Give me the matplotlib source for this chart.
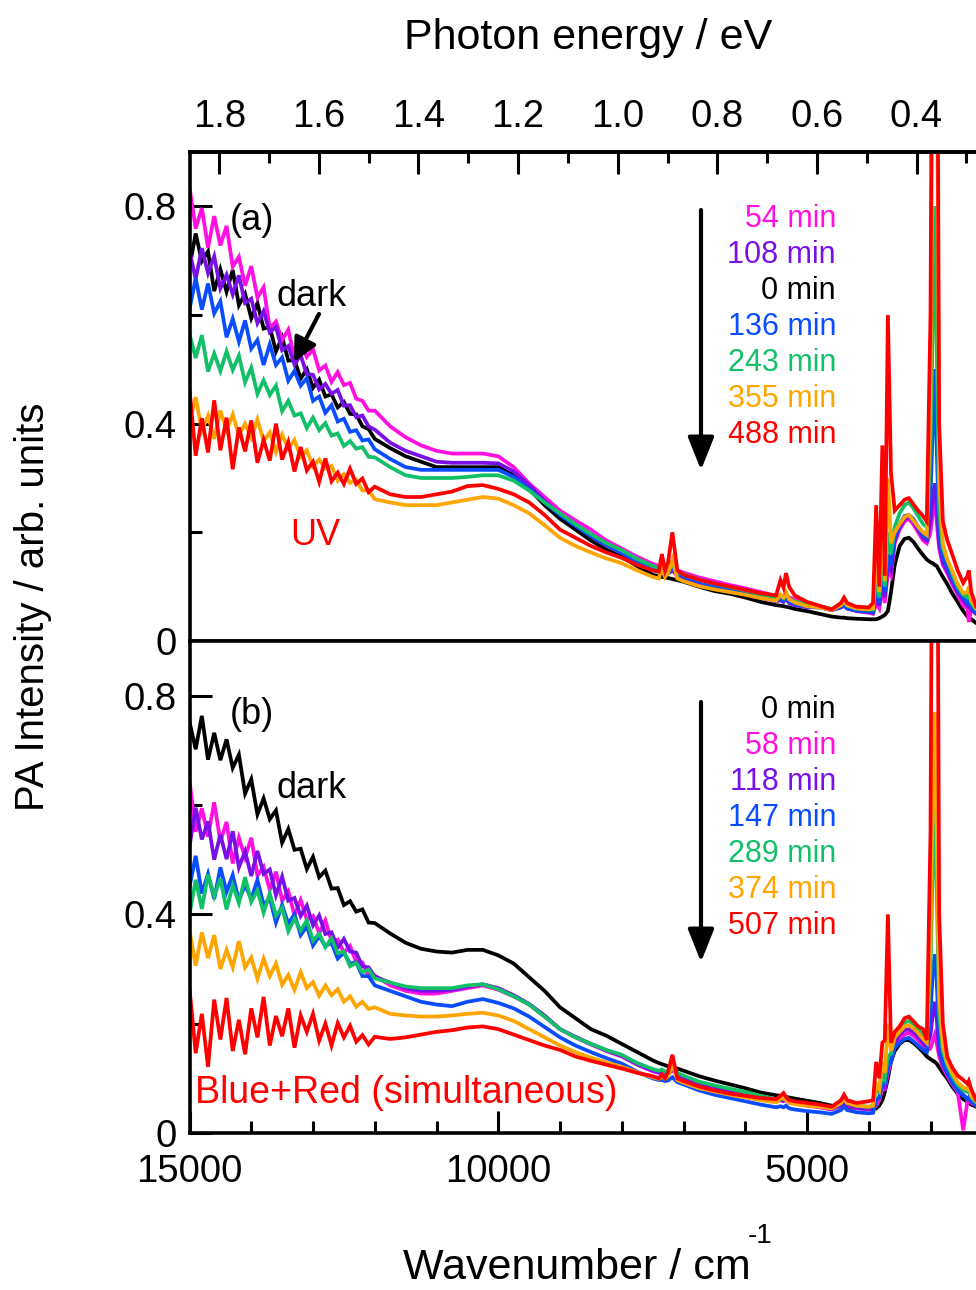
import matplotlib
matplotlib.use('Agg')
import matplotlib.pyplot as plt
from matplotlib.ticker import FixedLocator, MultipleLocator

plt.rcParams['font.family'] = ['Liberation Sans', 'DejaVu Sans']

# wavenumber grid (cm-1), shared by all curves
wn = [15000, 14900, 14800, 14700, 14600, 14500, 14400, 14300, 14200, 14100,
      14000, 13900, 13800, 13700, 13600, 13500, 13400, 13300, 13200, 13100,
      13000, 12900, 12800, 12700, 12600, 12500, 12400, 12300, 12200, 12100,
      12000, 11750, 11500, 11250, 11000,
      10750, 10500, 10250, 10000, 9750, 9500, 9250, 9000, 8750, 8500,
      8250, 8000, 7750, 7500, 7400, 7350, 7300, 7250, 7180, 7100,
      7000, 6750, 6500, 6250, 6000, 5750, 5500, 5430, 5380, 5340,
      5290, 5200, 5000,
      4800, 4600, 4450, 4400, 4350, 4200, 4000, 3930, 3880, 3830,
      3780, 3740, 3690, 3640, 3580, 3500, 3420, 3350, 3280, 3200,
      3120, 3060, 3000, 2960, 2930, 2900, 2860, 2800, 2730, 2650,
      2560, 2470, 2400, 2380, 2340, 2260, 2200, 2100, 2000]

# ---- panel (a): UV ----
a_0 = [.688, .750, .699, .717, .644, .684, .643, .683, .618, .639, .594, .622, .575, .578, .533, .559,
       .516, .517, .483, .500, .466, .481, .450, .454, .430, .440, .418, .417, .395, .390, .372,
       .355, .34, .33, .32,
       .32, .32, .32, .32, .305, .28, .25, .225, .205, .185, .168, .155, .138, .122, .119, .118, .117,
       .116, .114, .112, .109, .10, .092, .087, .08, .072, .066, .065, .064, .063, .062, .059, .055,
       .05, .045, .043, .043, .042, .041, .04, .04, .04, .042, .045, .048, .055, .09, .14, .175, .188,
       .19, .183, .17, .158, .15, .145, .143, .14, .138, .13, .118, .105, .088, .072, .055, .045, .043,
       .04, .033, .031, .03, .03]
a_54 = [.835, .759, .797, .724, .782, .728, .764, .689, .707, .654, .690, .632, .651, .576, .588, .554,
        .573, .520, .547, .523, .537, .498, .507, .477, .495, .471, .475, .446, .442, .424, .424,
        .395, .375, .36, .35,
        .345, .345, .345, .34, .32, .29, .265, .24, .222, .205, .185, .17, .155, .142, .138, .137, .135,
        .134, .14, .13, .126, .117, .11, .103, .097, .09, .083, .083, .082, .086, .08, .077, .07,
        .064, .058, .062, .066, .06, .055, .052, .05, .07, .06, .10, .07, .13, .12, .18, .205, .22,
        .225, .215, .20, .185, .18, .2, .24, .26, .22, .17, .14, .125, .105, .085, .065, .06, .035,
        .06, .05, .045, .04, .04]
a_108 = [.718, .666, .723, .677, .708, .649, .674, .638, .673, .622, .630, .585, .607, .568, .578, .535,
         .543, .509, .526, .491, .490, .463, .473, .455, .462, .433, .434, .412, .415, .395, .389,
         .365, .35, .34, .33,
         .328, .328, .328, .327, .312, .287, .258, .233, .213, .193, .176, .162, .146, .131, .127, .126,
         .125, .124, .13, .12, .116, .107, .10, .094, .087, .079, .073, .075, .072, .078, .07, .066, .062,
         .062, .057, .062, .065, .06, .056, .053, .052, .08, .065, .11, .08, .14, .13, .185, .21, .225,
         .228, .22, .205, .19, .185, .22, .27, .29, .25, .18, .145, .13, .11, .09, .075, .065, .07,
         .058, .05, .047, .043, .04]
a_136 = [.610, .668, .610, .658, .603, .625, .559, .593, .551, .590, .538, .554, .508, .546, .508, .522,
         .479, .497, .470, .484, .442, .450, .420, .434, .404, .409, .385, .388, .369, .371, .353,
         .335, .32, .315, .315,
         .315, .315, .315, .315, .302, .28, .255, .232, .212, .193, .177, .163, .147, .133, .129, .13,
         .127, .126, .135, .122, .118, .109, .101, .095, .088, .081, .074, .078, .074, .08, .072, .068, .063,
         .062, .057, .062, .066, .06, .056, .054, .053, .10, .07, .13, .09, .16, .14, .19, .215, .23,
         .232, .225, .21, .195, .19, .27, .40, .50, .36, .20, .155, .135, .115, .095, .08, .07, .075,
         .062, .052, .048, .044, .04]
a_243 = [.565, .521, .563, .496, .529, .497, .533, .499, .525, .476, .503, .455, .480, .453, .470, .423,
         .442, .415, .419, .392, .411, .388, .401, .378, .382, .359, .368, .354, .357, .339, .338,
         .32, .305, .30, .30,
         .30, .302, .305, .305, .295, .277, .255, .235, .215, .197, .18, .167, .151, .138, .134, .135,
         .132, .131, .14, .127, .123, .113, .106, .099, .093, .086, .079, .083, .079, .085, .077, .073, .067,
         .064, .059, .066, .072, .065, .06, .058, .058, .12, .08, .16, .10, .20, .16, .21, .235, .25,
         .255, .245, .23, .215, .21, .35, .60, .80, .55, .24, .17, .15, .125, .10, .085, .08, .09,
         .07, .058, .052, .047, .043]
a_355 = [.403, .449, .387, .415, .372, .424, .388, .417, .378, .400, .374, .408, .368, .384, .348, .380,
         .354, .370, .339, .351, .321, .334, .317, .322, .295, .307, .291, .297, .277, .277, .261,
         .255, .25, .25, .25,
         .255, .26, .265, .262, .25, .235, .213, .19, .175, .163, .152, .143, .13, .118, .115, .135,
         .118, .125, .15, .115, .11, .101, .095, .09, .085, .079, .074, .085, .08, .09, .077, .071, .064,
         .062, .057, .066, .075, .066, .06, .058, .06, .16, .09, .22, .11, .30, .18, .20, .215, .228,
         .232, .222, .21, .2, .195, .45, 1.2, 1.3, 1.2, .30, .18, .15, .13, .105, .088, .09, .10,
         .075, .06, .055, .05, .045]
a_488 = [.463, .341, .410, .347, .443, .351, .411, .316, .393, .349, .406, .328, .370, .332, .400, .334,
         .366, .312, .357, .314, .330, .293, .336, .294, .310, .289, .317, .289, .299, .274, .284,
         .27, .265, .265, .27,
         .275, .285, .287, .28, .27, .255, .232, .205, .19, .175, .163, .153, .14, .13, .128, .16,
         .13, .145, .20, .13, .122, .113, .106, .10, .094, .088, .084, .112, .098, .125, .10, .084, .072,
         .065, .058, .07, .08, .07, .063, .062, .07, .25, .10, .36, .12, .60, .31, .24, .25, .26,
         .263, .252, .24, .23, .22, .60, 1.5, 1.5, 1.5, .40, .22, .186, .16, .13, .107, .12, .13,
         .09, .063, .058, .055, .05]

# ---- panel (b): Blue+Red ----
b_0 = [.752, .702, .763, .683, .732, .682, .720, .668, .692, .621, .647, .583, .612, .574, .590, .531,
       .556, .518, .520, .483, .505, .468, .480, .447, .448, .417, .424, .405, .409, .385, .384,
       .365, .348, .337, .332,
       .33, .335, .335, .325, .31, .285, .26, .23, .21, .19, .178, .163, .148, .133, .128, .126, .124,
       .122, .12, .118, .114, .104, .096, .089, .082, .074, .069, .068, .067, .066, .065, .063, .059,
       .055, .05, .048, .048, .047, .046, .045, .045, .045, .05, .06, .075, .10, .13, .15, .163, .17,
       .17, .165, .157, .148, .14, .135, .132, .13, .127, .12, .11, .10, .085, .072, .062, .057, .055,
       .052, .048, .046, .045, .045]
b_58 = [.645, .551, .594, .542, .605, .533, .569, .493, .540, .504, .540, .471, .487, .445, .478, .425,
        .442, .398, .426, .390, .397, .365, .389, .351, .354, .330, .342, .313, .312, .287, .288,
        .27, .26, .255, .255,
        .26, .265, .27, .262, .25, .235, .213, .19, .175, .162, .15, .14, .125, .113, .11, .11, .108,
        .108, .115, .105, .10, .09, .083, .077, .071, .064, .058, .06, .058, .062, .056, .054, .05,
        .047, .043, .05, .055, .05, .045, .043, .043, .05, .06, .08, .08, .11, .13, .16, .172, .18,
        .183, .178, .17, .16, .15, .155, .17, .18, .165, .14, .12, .105, .09, .075, .005, .06, .06,
        .055, .05, .047, .045, .044]
b_118 = [.524, .595, .537, .570, .500, .546, .501, .552, .486, .515, .470, .516, .474, .482, .435, .469,
         .425, .430, .397, .416, .380, .398, .364, .367, .339, .355, .332, .330, .305, .303, .286,
         .275, .265, .26, .26,
         .262, .268, .272, .265, .252, .236, .215, .19, .176, .163, .151, .141, .126, .114, .111, .111,
         .109, .109, .117, .106, .101, .091, .084, .078, .072, .065, .059, .061, .059, .063, .057, .055, .051,
         .048, .044, .051, .056, .051, .046, .044, .044, .06, .065, .09, .085, .12, .135, .165, .18, .188,
         .19, .185, .175, .165, .157, .18, .22, .24, .21, .15, .125, .11, .095, .08, .07, .063, .065,
         .058, .052, .049, .046, .045]
b_147 = [.450, .507, .438, .474, .428, .486, .441, .472, .425, .454, .428, .463, .417, .430, .385, .417,
         .383, .400, .362, .378, .343, .360, .342, .348, .319, .330, .310, .312, .287, .287, .270,
         .26, .25, .24, .235,
         .232, .24, .245, .238, .228, .213, .194, .175, .16, .148, .137, .127, .112, .10, .097, .097,
         .095, .096, .102, .093, .089, .078, .07, .064, .058, .052, .047, .049, .047, .05, .045, .043, .04,
         .038, .035, .042, .048, .042, .038, .036, .037, .06, .065, .09, .09, .12, .13, .155, .165, .172,
         .174, .168, .16, .152, .148, .22, .30, .327, .28, .17, .13, .11, .093, .078, .068, .062, .065,
         .057, .05, .047, .045, .043]
b_289 = [.400, .463, .410, .473, .433, .465, .409, .453, .421, .468, .423, .444, .403, .438, .398, .412,
         .369, .392, .370, .389, .352, .365, .340, .356, .329, .332, .305, .311, .294, .299, .283,
         .275, .268, .265, .265,
         .265, .27, .272, .263, .25, .235, .213, .19, .175, .163, .152, .143, .128, .117, .114, .116,
         .112, .114, .125, .11, .105, .094, .087, .081, .075, .068, .062, .065, .062, .066, .06, .057, .053,
         .05, .046, .055, .062, .055, .05, .048, .05, .08, .075, .11, .10, .14, .145, .175, .19, .202,
         .205, .20, .19, .178, .17, .3, .5, .60, .45, .22, .15, .125, .105, .088, .078, .075, .085,
         .065, .056, .052, .048, .046]
b_374 = [.370, .306, .367, .320, .362, .300, .335, .303, .351, .303, .321, .282, .319, .287, .310, .271,
         .289, .262, .294, .265, .276, .251, .270, .252, .263, .240, .250, .231, .240, .227, .230,
         .218, .215, .213, .213,
         .215, .218, .22, .215, .205, .19, .175, .16, .148, .138, .129, .121, .111, .102, .099, .103,
         .099, .104, .125, .097, .092, .082, .076, .07, .065, .06, .056, .062, .065, .06, .055, .053, .05,
         .048, .045, .055, .063, .055, .05, .048, .05, .09, .08, .13, .11, .20, .15, .175, .185, .195,
         .197, .192, .183, .172, .165, .35, .65, .77, .55, .25, .16, .13, .11, .093, .083, .08, .088,
         .068, .058, .054, .05, .048]
b_507 = [.265, .146, .218, .121, .244, .171, .247, .150, .207, .144, .228, .175, .249, .160, .214, .177,
         .228, .156, .215, .185, .218, .169, .200, .160, .201, .175, .196, .167, .179, .162, .176,
         .172, .175, .18, .185,
         .188, .193, .195, .19, .18, .17, .16, .152, .14, .132, .125, .118, .11, .104, .10, .107,
         .10, .112, .143, .10, .095, .085, .078, .072, .068, .064, .062, .068, .073, .066, .06, .058, .055,
         .052, .048, .06, .07, .06, .055, .058, .06, .13, .10, .165, .17, .40, .165, .185, .195, .21,
         .213, .205, .195, .19, .17, .55, 1.5, 1.5, 1.5, .40, .20, .14, .12, .105, .097, .09, .095,
         .08, .06, .058, .055, .05]

# draw order (chronological) and label order (top to bottom in the list)
times_a = [0, 54, 108, 136, 243, 355, 488]
series_a = [a_0, a_54, a_108, a_136, a_243, a_355, a_488]
legend_a = [54, 108, 0, 136, 243, 355, 488]
times_b = [0, 58, 118, 147, 289, 374, 507]
series_b = [b_0, b_58, b_118, b_147, b_289, b_374, b_507]
legend_b = [0, 58, 118, 147, 289, 374, 507]

colors = ['black', '#FF10E0', '#7A10E8', '#0A4DFF', '#12C068', '#FFA500', '#FF0000']

ev_major = [1.8, 1.6, 1.4, 1.2, 1.0, 0.8, 0.6, 0.4]
ev_minor = [1.7, 1.5, 1.3, 1.1, 0.9, 0.7, 0.5, 0.3]

for s in series_a + series_b:
    assert len(s) == len(wn), len(s)

W, H = 976, 1290
TICK_FS = 27.5


def fx(x):
    return x / W


def fy(y):
    return 1 - y / H


fig = plt.figure(figsize=(W / 100, H / 100), dpi=100)
xspan = 802.75  # px for 15000 -> 2000 cm-1 (right edge runs past the figure)
ax_a = fig.add_axes([fx(189.5), fy(641), xspan / W, (641 - 152) / H])
ax_b = fig.add_axes([fx(189.5), fy(1133), xspan / W, (1133 - 641) / H])

for ax, times, series in [(ax_a, times_a, series_a), (ax_b, times_b, series_b)]:
    for t, y, c in zip(times, series, colors):
        ax.plot(wn, y, color=c, lw=2.7, solid_joinstyle='miter')
    ax.set_xlim(15000, 2000)
    ax.set_ylim(0, 0.9)
    for sp in ax.spines.values():
        sp.set_linewidth(2.6)
    ax.set_yticks([0, 0.4, 0.8])
    ax.set_yticklabels(['0', '0.4', '0.8'])
    ax.yaxis.set_minor_locator(FixedLocator([0.2, 0.6]))
    ax.tick_params(axis='y', which='both', direction='in', left=True, right=False,
                   labelsize=TICK_FS, pad=9)
    ax.tick_params(axis='y', which='major', length=16, width=2.2)
    ax.tick_params(axis='y', which='minor', length=8.5, width=2.2)

ax_a.tick_params(axis='x', which='both', bottom=False, top=False, labelbottom=False)

ax_b.set_xticks([15000, 10000, 5000])
ax_b.set_xticklabels(['15000', '10000', '5000'])
ax_b.xaxis.set_minor_locator(MultipleLocator(1000))
ax_b.tick_params(axis='x', which='both', direction='in', top=False, bottom=True,
                 labelsize=TICK_FS, pad=15)
ax_b.tick_params(axis='x', which='major', length=16, width=2.2)
ax_b.tick_params(axis='x', which='minor', length=8.5, width=2.2)

# photon energy axis on top
sec = ax_a.secondary_xaxis('top', functions=(lambda w: w / 8065.54, lambda e: e * 8065.54))
sec.set_xticks(ev_major)
sec.set_xticklabels(['%.1f' % e for e in ev_major])
sec.xaxis.set_minor_locator(FixedLocator(ev_minor))
sec.tick_params(axis='x', which='both', direction='in', labelsize=TICK_FS, pad=12)
sec.tick_params(axis='x', which='major', length=16, width=2.2)
sec.tick_params(axis='x', which='minor', length=8, width=2.2)
sec.spines['top'].set_linewidth(2.6)

# axis titles
fig.text(fx(588), fy(38), 'Photon energy / eV', fontsize=31, ha='center', va='center')
fig.text(fx(403), fy(1268), 'Wavenumber / cm', fontsize=31, ha='left', va='center')
fig.text(fx(748), fy(1236), '-1', fontsize=20, ha='left', va='center')
fig.text(fx(33), fy(607), 'PA Intensity / arb. units', fontsize=29, rotation=90,
         ha='center', va='center')

# panel annotations
fig.text(fx(252), fy(221), '(a)', fontsize=26, ha='center', va='center')
fig.text(fx(312), fy(296), 'dark', fontsize=26, ha='center', va='center')
fig.text(fx(315), fy(535), 'UV', fontsize=26, color='#FF0000', ha='center', va='center')
ax_a.annotate('', xy=(fx(294), fy(362)), xytext=(fx(319), fy(314)),
              xycoords='figure fraction', textcoords='figure fraction',
              arrowprops=dict(arrowstyle='-|>,head_length=1.1,head_width=0.55', lw=3,
                              color='black', mutation_scale=13, shrinkA=0, shrinkB=0))

fig.text(fx(252), fy(715), '(b)', fontsize=26, ha='center', va='center')
fig.text(fx(312), fy(789), 'dark', fontsize=26, ha='center', va='center')
fig.text(fx(195), fy(1093), 'Blue+Red (simultaneous)', fontsize=27, color='#FF0000',
         ha='left', va='center')

# time labels with the downward arrow
for ax, order, times, y0, y1 in [(ax_a, legend_a, times_a, 219, (210, 470)),
                                 (ax_b, legend_b, times_b, 710, (702, 962))]:
    for k, t in enumerate(order):
        c = colors[times.index(t)]
        fig.text(fx(836), fy(y0 + 36 * k), '%d min' % t, fontsize=22, color=c,
                 ha='right', va='center')
    ax.annotate('', xy=(fx(701), fy(y1[1])), xytext=(fx(701), fy(y1[0])),
                xycoords='figure fraction', textcoords='figure fraction',
                arrowprops=dict(arrowstyle='-|>,head_length=1.0,head_width=0.4', lw=3,
                                color='black', mutation_scale=20, shrinkA=0, shrinkB=0))

fig.savefig('out.png', dpi=100)
